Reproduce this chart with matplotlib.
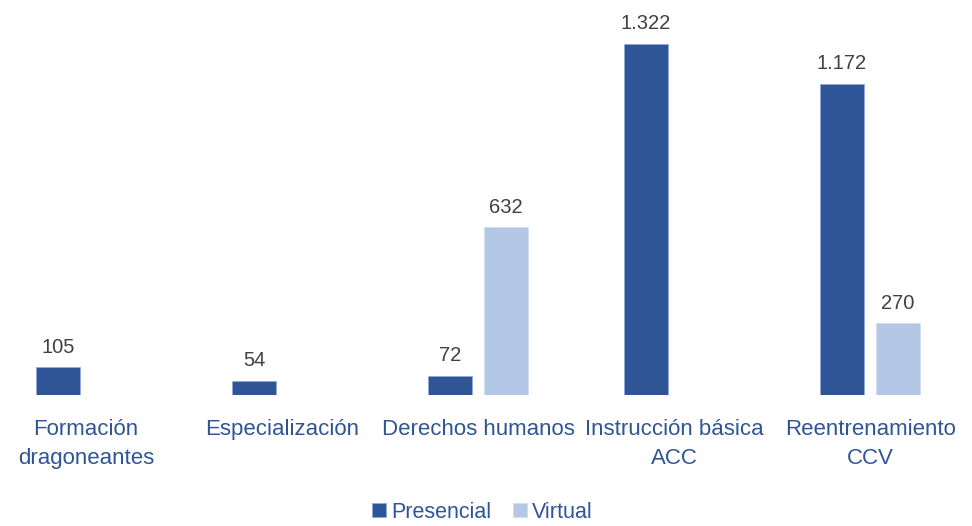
import matplotlib
matplotlib.use("Agg")
import matplotlib.pyplot as plt
import numpy as np

categories = ["Formación\ndragoneantes", "Especialización", "Derechos humanos",
              "Instrucción básica\nACC", "Reentrenamiento\nCCV"]
presencial = [105, 54, 72, 1322, 1172]
virtual = [0, 0, 632, 0, 270]
series_names = ["Presencial", "Virtual"]

DARK = "#2F5597"
LIGHT = "#B4C7E7"
TEXT_GRAY = "#404040"

plt.rcParams["font.family"] = ["Liberation Sans Narrow", "Liberation Sans", "DejaVu Sans"]


def fmt(v):
    return f"{v:,}".replace(",", ".")


def main():
    fig = plt.figure(figsize=(9.72, 5.26), dpi=100)
    fig.patch.set_facecolor("white")
    ax = fig.add_axes([0, 131 / 526, 1, 395 / 526])
    ax.set_facecolor("none")

    x = np.arange(len(categories))
    w = 0.224
    off = 0.143

    for i, (p, v) in enumerate(zip(presencial, virtual)):
        if p > 0:
            ax.bar(x[i] - off, p, w, color=DARK, edgecolor="#8FAADC", linewidth=0.5,
                   label=series_names[0] if i == 0 else None)
            ax.text(x[i] - off, p + 40, fmt(p), ha="center", va="bottom",
                    fontsize=14.5, color=TEXT_GRAY)
        if v > 0:
            ax.bar(x[i] + off, v, w, color=LIGHT, edgecolor="#D0DCF0", linewidth=0.5,
                   label=series_names[1] if i == 2 else None)
            ax.text(x[i] + off, v + 40, fmt(v), ha="center", va="bottom",
                    fontsize=14.5, color=TEXT_GRAY)

    ax.set_xlim(-0.439, 4.520)
    ax.set_ylim(0, 1487.7)
    ax.set_xticks(x)
    ax.set_xticklabels(categories, fontsize=16, color=DARK, linespacing=1.5)
    ax.tick_params(axis="x", length=0, pad=17)
    ax.set_yticks([])
    for s in ax.spines.values():
        s.set_visible(False)

    handles, labels = ax.get_legend_handles_labels()
    leg = fig.legend(handles, labels, loc="center", bbox_to_anchor=(0.496, 1 - 512 / 526),
                     ncol=2, frameon=False, fontsize=15.5, handlelength=0.65,
                     handleheight=0.65, handletextpad=0.25, columnspacing=1.0)
    for t in leg.get_texts():
        t.set_color(DARK)

    fig.savefig("out.png", dpi=100, facecolor="white")
    plt.close(fig)


if __name__ == "__main__":
    main()
